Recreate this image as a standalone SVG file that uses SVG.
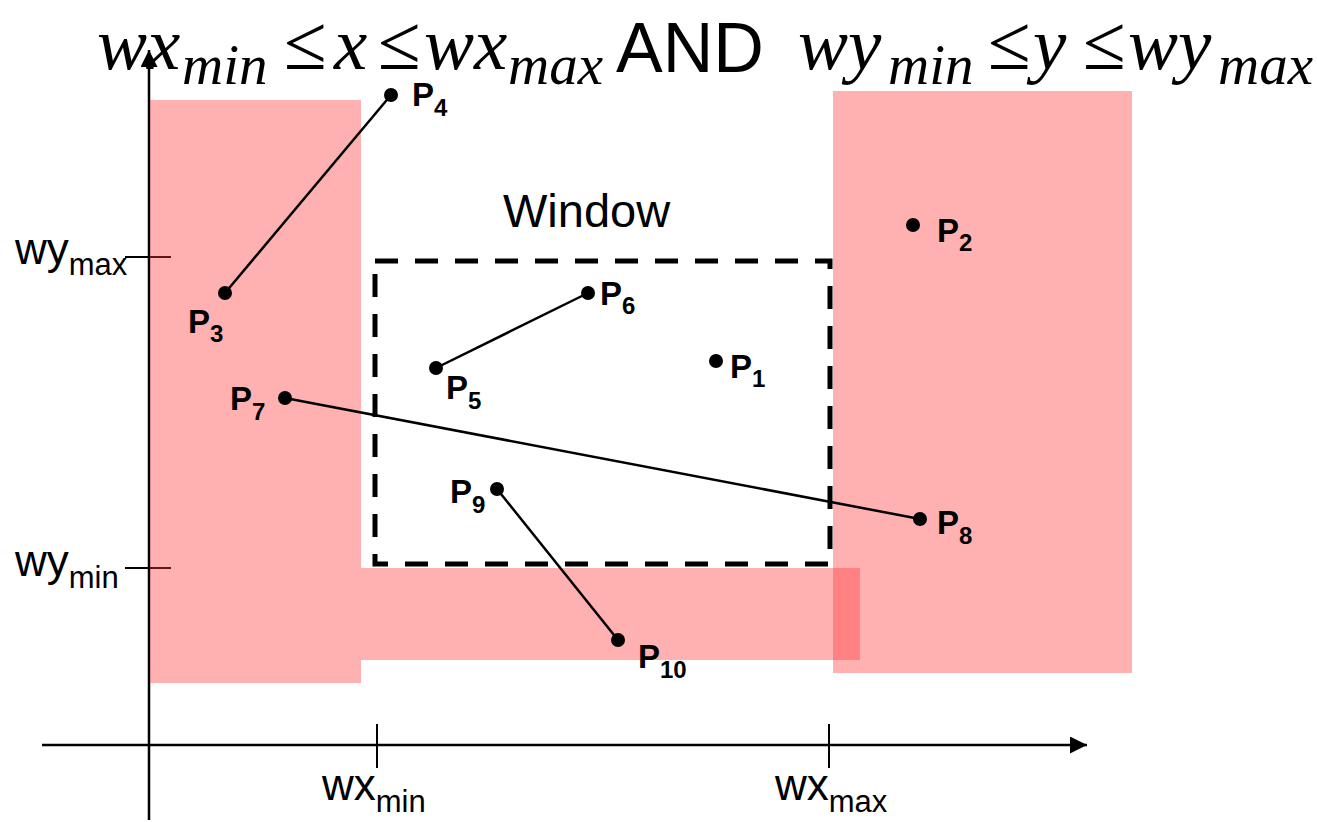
<svg xmlns="http://www.w3.org/2000/svg" width="1317" height="822" viewBox="0 0 1317 822">
  <style>
    .axis { stroke: #000; stroke-width: 2.5; fill: none; }
    .tick { stroke: #000; stroke-width: 2; }
    .zone { fill: rgb(255,53,53); fill-opacity: 0.39; }
    .win { fill: none; stroke: #000; stroke-width: 5; stroke-dasharray: 23 17; }
    .seg { stroke: #000; stroke-width: 2.5; }
    .dot { fill: #000; }
    .pl { font-family: "Liberation Sans", Arial, sans-serif; font-weight: bold; font-size: 33px; fill: #000; }
    .ps { font-size: 24px; }
    .ax { font-family: "Liberation Sans", Arial, sans-serif; font-size: 44px; fill: #000; }
    .axs { font-size: 31px; }
    .m { font-family: "Liberation Serif", "Times New Roman", serif; font-style: italic; font-size: 75px; fill: #000; }
    .ms { font-size: 57px; }
    .op { font-family: "Liberation Serif", "Times New Roman", serif; font-size: 78px; fill: #000; }
    .lbl { font-family: "Liberation Sans", Arial, sans-serif; font-size: 47px; fill: #000; }
  </style>
  <defs>
    <marker id="arrow" viewBox="0 0 10 10" refX="10" refY="5" markerWidth="17" markerHeight="17" markerUnits="userSpaceOnUse" orient="auto">
      <path d="M0,0 L10,5 L0,10 z" fill="#000"/>
    </marker>
  </defs>
  <rect width="1317" height="822" fill="#fff"/>

  <!-- coordinate axes and ticks -->
  <g id="axes">
    <line class="axis" x1="149" y1="820" x2="149" y2="50" marker-end="url(#arrow)"/>
    <line class="axis" x1="42" y1="745" x2="1087" y2="745" marker-end="url(#arrow)"/>
    <line class="tick" x1="125" y1="257" x2="171" y2="257"/>
    <line class="tick" x1="125" y1="568" x2="171" y2="568"/>
    <line class="tick" x1="377" y1="724" x2="377" y2="768"/>
    <line class="tick" x1="829" y1="724" x2="829" y2="768"/>
    <text class="ax" x="15" y="264">wy<tspan class="axs" y="275">max</tspan></text>
    <text class="ax" x="15" y="576">wy<tspan class="axs" y="588">min</tspan></text>
    <text class="ax" x="322" y="800">wx<tspan class="axs" y="812">min</tspan></text>
    <text class="ax" x="775" y="800">wx<tspan class="axs" y="812">max</tspan></text>
  </g>

  <!-- rejected regions -->
  <g id="regions">
    <rect class="zone" x="150" y="100" width="211" height="583"/>
    <rect class="zone" x="833" y="91" width="299" height="582"/>
    <rect class="zone" x="361" y="568" width="499" height="92"/>
  </g>

  <!-- clipping window -->
  <g id="window">
    <rect class="win" x="375" y="261" width="455" height="303"/>
    <text class="lbl" x="503" y="227">Window</text>
  </g>

  <!-- condition -->
  <g id="condition">
    <text class="m" x="97" y="69">wx</text>
    <text class="m ms" x="182" y="84">min</text>
    <text class="op" x="284" y="69">≤</text>
    <text class="m" x="334" y="69">x</text>
    <text class="op" x="378" y="69">≤</text>
    <text class="m" x="424" y="69">wx</text>
    <text class="m ms" x="508" y="84">max</text>
    <text class="lbl" x="616" y="72" style="font-size:70px">AND</text>
    <text class="m" x="798" y="69">wy</text>
    <text class="m ms" x="888" y="84">min</text>
    <text class="op" x="988" y="69">≤</text>
    <text class="m" x="1033" y="69">y</text>
    <text class="op" x="1083" y="69">≤</text>
    <text class="m" x="1128" y="69">wy</text>
    <text class="m ms" x="1218" y="84">max</text>
  </g>

  <!-- line segments between points -->
  <g id="connectors">
    <line class="seg" x1="225" y1="293" x2="391" y2="95"/>
    <line class="seg" x1="436" y1="368" x2="588" y2="293"/>
    <line class="seg" x1="285" y1="398" x2="920" y2="519"/>
    <line class="seg" x1="497" y1="489" x2="618" y2="640"/>
  </g>

  <!-- points -->
  <g id="P1"><circle class="dot" cx="716" cy="361" r="7"/><text class="pl" x="730" y="378">P<tspan class="ps" y="387">1</tspan></text></g>
  <g id="P2"><circle class="dot" cx="913" cy="225" r="7"/><text class="pl" x="937" y="242">P<tspan class="ps" y="251">2</tspan></text></g>
  <g id="P3"><circle class="dot" cx="225" cy="293" r="7"/><text class="pl" x="188" y="333">P<tspan class="ps" y="342">3</tspan></text></g>
  <g id="P4"><circle class="dot" cx="391" cy="95" r="7"/><text class="pl" x="412" y="106">P<tspan class="ps" y="116">4</tspan></text></g>
  <g id="P5"><circle class="dot" cx="436" cy="368" r="7"/><text class="pl" x="446" y="399">P<tspan class="ps" y="409">5</tspan></text></g>
  <g id="P6"><circle class="dot" cx="588" cy="293" r="7"/><text class="pl" x="600" y="305">P<tspan class="ps" y="314">6</tspan></text></g>
  <g id="P7"><circle class="dot" cx="285" cy="398" r="7"/><text class="pl" x="230" y="410">P<tspan class="ps" y="420">7</tspan></text></g>
  <g id="P8"><circle class="dot" cx="920" cy="519" r="7"/><text class="pl" x="937" y="534">P<tspan class="ps" y="544">8</tspan></text></g>
  <g id="P9"><circle class="dot" cx="497" cy="489" r="7"/><text class="pl" x="450" y="503">P<tspan class="ps" y="513">9</tspan></text></g>
  <g id="P10"><circle class="dot" cx="618" cy="640" r="7"/><text class="pl" x="638" y="668">P<tspan class="ps" y="678">10</tspan></text></g>
</svg>
